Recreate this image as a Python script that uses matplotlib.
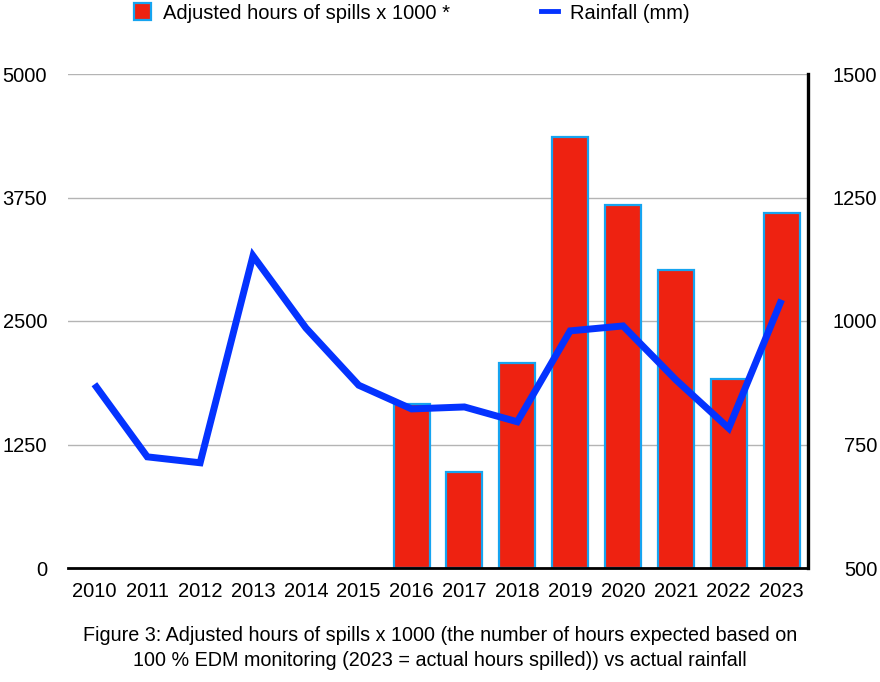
import numpy as np
import matplotlib.pyplot as plt
from matplotlib.patches import Patch
from matplotlib.lines import Line2D

plt.rcParams['font.family'] = ['Liberation Sans', 'DejaVu Sans']

# data
years = ['2010', '2011', '2012', '2013', '2014', '2015', '2016',
         '2017', '2018', '2019', '2020', '2021', '2022', '2023']
spill_hours = [0, 0, 0, 0, 0, 0, 1660, 970, 2075, 4362, 3674, 3016, 1913, 3593]
rainfall = [872, 725, 713, 1132, 986, 870, 822, 826, 796, 980, 990, 881, 783, 1043]
left_ticks = [0, 1250, 2500, 3750, 5000]
right_ticks = [500, 750, 1000, 1250, 1500]

caption = ("Figure 3: Adjusted hours of spills x 1000 (the number of hours expected based on\n"
           "100 % EDM monitoring (2023 = actual hours spilled)) vs actual rainfall")

bar_red = '#ee2211'
bar_edge = '#16a4f0'
line_blue = '#0433ff'

fig = plt.figure(figsize=(8.8, 6.82), dpi=100)
ax = fig.add_axes([68 / 880, 1 - 568 / 682, 740 / 880, 494 / 682])
x = np.arange(len(years))

heights = [h if h > 0 else np.nan for h in spill_hours]
ax.bar(x, heights, width=0.68, color=bar_red, edgecolor=bar_edge, linewidth=1.6, zorder=2)

ax.set_xlim(-0.5, len(years) - 0.5)
ax.set_ylim(0, 5000)
ax.set_yticks(left_ticks)
ax.set_yticklabels([str(t) for t in left_ticks])
ax.set_xticks(x)
ax.set_xticklabels(years)
ax.yaxis.grid(True, color='#b4b4b4', linewidth=1.0)
ax.set_axisbelow(True)
ax.tick_params(axis='both', length=0, labelsize=14.5)
ax.tick_params(axis='y', pad=15)
ax.tick_params(axis='x', pad=10)
for side in ['left', 'top', 'right']:
    ax.spines[side].set_visible(False)
ax.spines['bottom'].set_linewidth(2.0)
ax.spines['bottom'].set_color('black')

ax2 = ax.twinx()
ax2.plot(x, rainfall, color=line_blue, linewidth=5.0, solid_joinstyle='miter',
         solid_capstyle='butt', zorder=3)
ax2.set_ylim(500, 1500)
ax2.set_yticks(right_ticks)
ax2.set_yticklabels([str(t) for t in right_ticks])
ax2.tick_params(axis='y', length=0, labelsize=14.5, pad=50)
for lbl in ax2.get_yticklabels():
    lbl.set_horizontalalignment('right')
for side in ['left', 'top', 'bottom']:
    ax2.spines[side].set_visible(False)
ax2.spines['right'].set_linewidth(2.4)
ax2.spines['right'].set_color('black')

handles = [Patch(facecolor=bar_red, edgecolor=bar_edge, linewidth=1.6),
           Line2D([0], [0], color=line_blue, linewidth=3.5)]
labels = ['Adjusted hours of spills x 1000 *', 'Rainfall (mm)']
fig.legend(handles, labels, loc='center', bbox_to_anchor=(412 / 880, 1 - 13 / 682),
           ncol=2, frameon=False, fontsize=14.5, handlelength=0.85, handleheight=0.85,
           handletextpad=0.6, columnspacing=4.5)

fig.text(0.5, 1 - 648 / 682, caption, ha='center', va='center', fontsize=14.2, linespacing=1.45)

fig.savefig('out.png', dpi=100)
